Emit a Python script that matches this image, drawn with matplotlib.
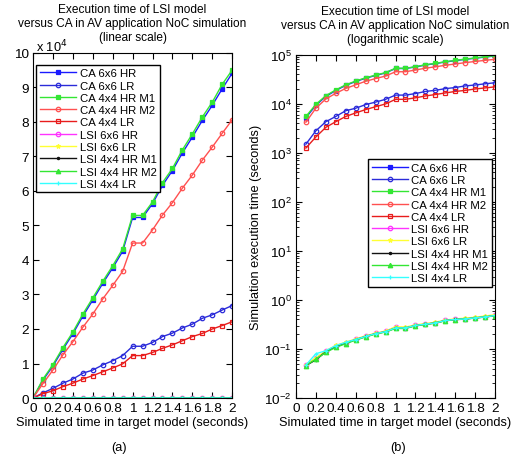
import matplotlib.pyplot as plt
from matplotlib.ticker import FuncFormatter, LogLocator, NullFormatter

plt.rcParams['font.family'] = ['Liberation Sans', 'DejaVu Sans']

# simulated time (s)
t = [0, 0.1, 0.2, 0.3, 0.4, 0.5, 0.6, 0.7, 0.8, 0.9, 1.0,
     1.1, 1.2, 1.3, 1.4, 1.5, 1.6, 1.7, 1.8, 1.9, 2.0]

# execution time (s) - CA models
ca66_hr = [0, 5200, 9300, 14100, 18600, 23700, 28400, 33200, 37700, 42500, 52300,
           52300, 56300, 61600, 65900, 71000, 75600, 80400, 84800, 89600, 94100]
ca66_lr = [0, 1500, 2800, 4300, 5500, 7200, 8100, 9600, 10800, 12300, 15000,
           15000, 16100, 17800, 18800, 20300, 21400, 23100, 24100, 25500, 26800]
ca44_hr_m1 = [0, 5500, 9700, 14600, 19100, 24300, 29000, 33800, 38300, 43200, 52900,
              52900, 56800, 62400, 66500, 71900, 76500, 81400, 85700, 90900, 95000]
ca44_hr_m2 = [0, 4200, 8100, 12500, 16300, 20500, 24300, 28700, 32600, 36700, 44900,
              44900, 48700, 53000, 56600, 60800, 64600, 68900, 72700, 76700, 80600]
ca44_lr = [0, 1250, 2100, 3300, 4300, 5500, 6500, 7600, 8700, 9900, 12300,
           12300, 13200, 14400, 15400, 16600, 17800, 18700, 20000, 21000, 22100]

# execution time (s) - LSI models
lsi66_hr = [0, 0.047, 0.065, 0.090, 0.115, 0.135, 0.157, 0.182, 0.207, 0.228, 0.275,
            0.272, 0.302, 0.322, 0.342, 0.382, 0.402, 0.412, 0.435, 0.455, 0.485]
lsi66_lr = [0, 0.048, 0.066, 0.092, 0.118, 0.138, 0.160, 0.186, 0.210, 0.232, 0.285,
            0.280, 0.310, 0.330, 0.352, 0.390, 0.410, 0.425, 0.445, 0.470, 0.500]
lsi44_hr_m1 = [0, 0.046, 0.060, 0.088, 0.112, 0.132, 0.155, 0.180, 0.205, 0.225, 0.268,
               0.268, 0.300, 0.320, 0.340, 0.380, 0.400, 0.410, 0.430, 0.450, 0.480]
lsi44_hr_m2 = [0, 0.046, 0.062, 0.085, 0.108, 0.128, 0.152, 0.176, 0.202, 0.222, 0.262,
               0.262, 0.296, 0.316, 0.336, 0.376, 0.396, 0.406, 0.428, 0.448, 0.478]
lsi44_lr = [0, 0.047, 0.080, 0.092, 0.117, 0.137, 0.156, 0.181, 0.206, 0.226, 0.270,
            0.270, 0.302, 0.321, 0.341, 0.381, 0.401, 0.411, 0.432, 0.452, 0.482]

series = [
    ('CA 6x6 HR', ca66_hr, '#1a1aff', 's', True),
    ('CA 6x6 LR', ca66_lr, '#2b2bd9', 'o', False),
    ('CA 4x4 HR M1', ca44_hr_m1, '#33e633', 's', True),
    ('CA 4x4 HR M2', ca44_hr_m2, '#ff5050', 'o', False),
    ('CA 4x4 LR', ca44_lr, '#e81c1c', 's', False),
    ('LSI 6x6 HR', lsi66_hr, '#ff33ff', 'o', False),
    ('LSI 6x6 LR', lsi66_lr, '#ffff33', '*', True),
    ('LSI 4x4 HR M1', lsi44_hr_m1, '#111111', '.', True),
    ('LSI 4x4 HR M2', lsi44_hr_m2, '#33e633', '^', True),
    ('LSI 4x4 LR', lsi44_lr, '#33ffff', '+', True),
]

xt = [0, 0.2, 0.4, 0.6, 0.8, 1, 1.2, 1.4, 1.6, 1.8, 2]
xtl = ['0', '0.2', '0.4', '0.6', '0.8', '1', '1.2', '1.4', '1.6', '1.8', '2']

fig = plt.figure(figsize=(5.12, 4.64), dpi=100)
ax1 = fig.add_axes([0.0645, 0.140, 0.389, 0.744])
ax2 = fig.add_axes([0.578, 0.140, 0.389, 0.740])

fs = 8.2

def draw(ax, start):
    for name, vals, col, mk, filled in series:
        ax.plot(t[start:], vals[start:], color=col, lw=1.0, marker=mk, ms=3.2,
                mfc=col if filled else 'none', mec=col, mew=0.9, label=name)
    ax.set_xlim(0, 2)
    ax.set_xticks(xt)
    ax.set_xticklabels(xtl)
    ax.tick_params(direction='in', top=True, right=True, labelsize=fs + 1.5, length=4, pad=3)
    ax.set_xlabel('Simulated time in target model (seconds)', fontsize=fs + 1, labelpad=1)
    for s in ax.spines.values():
        s.set_linewidth(0.8)

def title(ax, third):
    lines = ['Execution time of LSI model',
             'versus CA in AV application NoC simulation', third]
    for i, s in enumerate(lines):
        ax.text(0.5, 1.128 - i * 0.041, s, transform=ax.transAxes,
                ha='center', va='center', fontsize=8.6)

draw(ax1, 0)
ax1.set_ylim(0, 100000)
ax1.set_yticks(range(0, 100001, 10000))
ax1.yaxis.set_major_formatter(FuncFormatter(lambda v, p: '%d' % round(v / 10000)))
title(ax1, '(linear scale)')
fig.text(0.07, 0.888, r'x 10$^4$', fontsize=fs + 1)
ax1.legend(loc='upper left', bbox_to_anchor=(0.0, 0.975), fontsize=fs, handlelength=3.2,
           borderpad=0.3, labelspacing=0.2, handletextpad=0.3, borderaxespad=0.3,
           fancybox=False, edgecolor='black', framealpha=1)

draw(ax2, 1)
ax2.set_yscale('log')
ax2.set_ylim(0.01, 100000)
ax2.yaxis.set_major_locator(LogLocator(base=10, numticks=10))
ax2.yaxis.set_minor_locator(LogLocator(base=10, subs=range(2, 10), numticks=20))
ax2.yaxis.set_minor_formatter(NullFormatter())
ax2.tick_params(which='minor', direction='in', right=True, length=2)
ax2.set_ylabel('Simulation execution time (seconds)', fontsize=fs + 1, labelpad=2)
title(ax2, '(logarithmic scale)')
ax2.legend(loc='center right', bbox_to_anchor=(1.0, 0.51), fontsize=fs, handlelength=3.2,
           borderpad=0.3, labelspacing=0.2, handletextpad=0.3, borderaxespad=0.3,
           fancybox=False, edgecolor='black', framealpha=1)

fig.text(0.232, 0.028, '(a)', fontsize=fs + 1, ha='center')
fig.text(0.778, 0.028, '(b)', fontsize=fs + 1, ha='center')

fig.savefig('out.png', dpi=100)
